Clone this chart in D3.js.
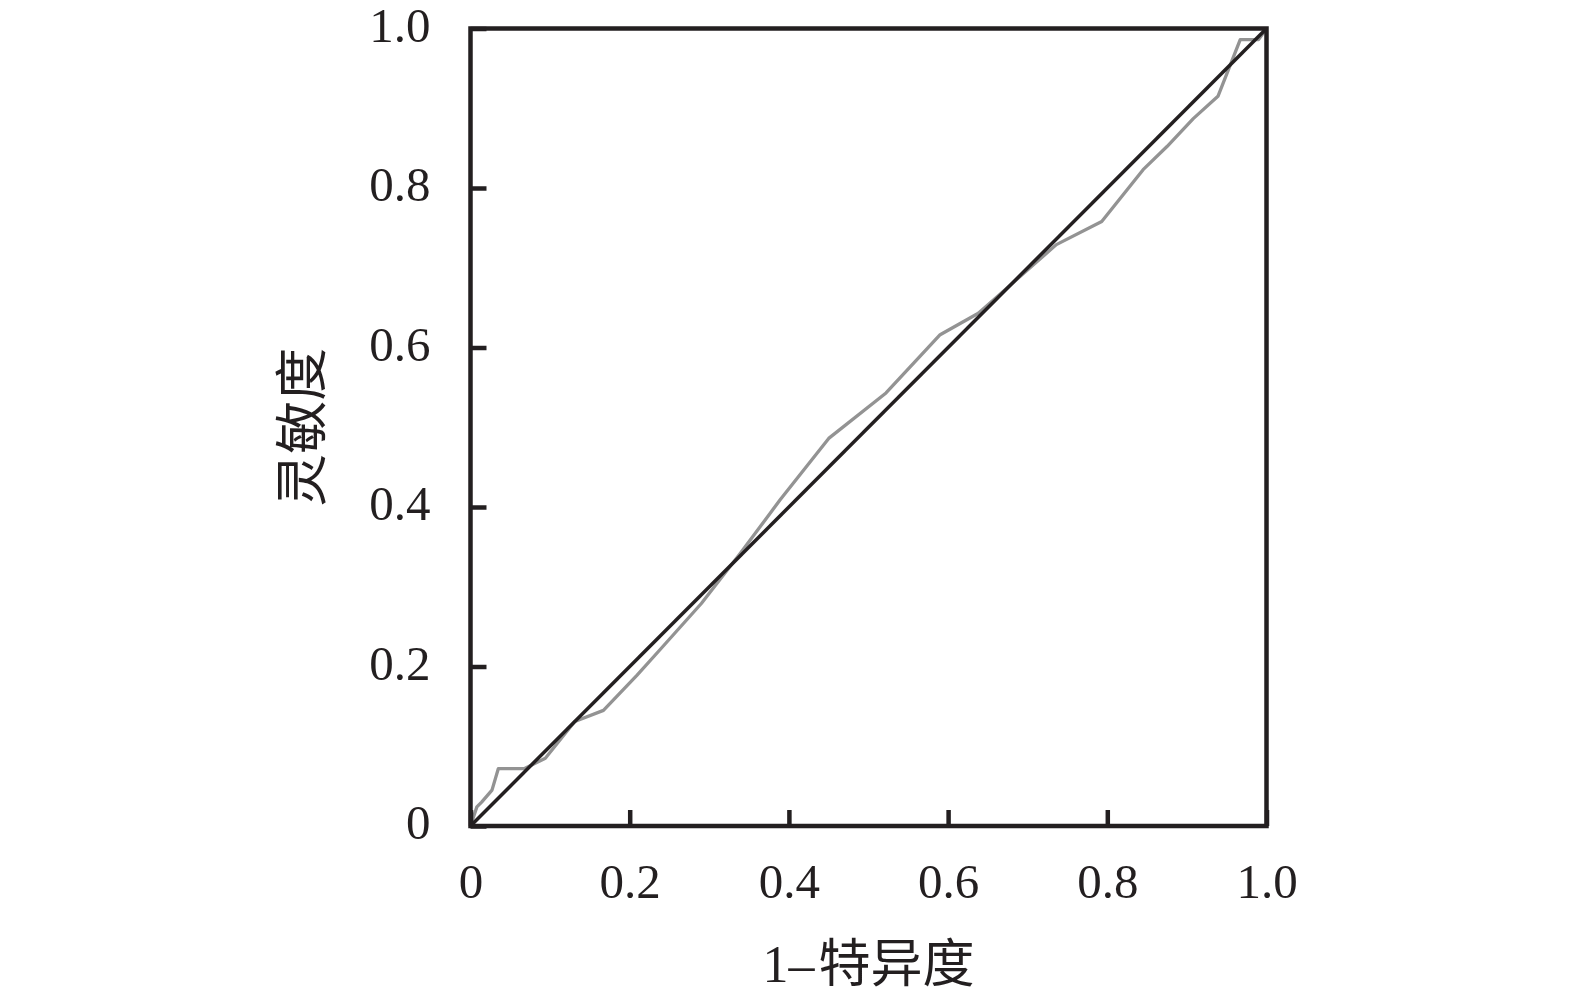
<!DOCTYPE html>
<html>
<head>
<meta charset="utf-8">
<script src="https://cdn.jsdelivr.net/npm/d3@7"></script>
<style>
  html, body { margin: 0; padding: 0; background: #fff; }
  svg { display: block; overflow: visible; }
</style>
</head>
<body>
<svg id="chart" width="1575" height="994"></svg>
<script>
// ---- data ----
const fprValues = [0, 0.008, 0.014, 0.027, 0.035, 0.068, 0.094, 0.131, 0.167, 0.209, 0.238, 0.29, 0.339, 0.389, 0.450, 0.522, 0.590, 0.638, 0.736, 0.793, 0.845, 0.875, 0.908, 0.939, 0.967, 0.990, 1.0];
const tprValues = [0, 0.024, 0.030, 0.045, 0.072, 0.072, 0.085, 0.131, 0.145, 0.189, 0.221, 0.279, 0.342, 0.409, 0.486, 0.543, 0.616, 0.643, 0.729, 0.758, 0.823, 0.852, 0.887, 0.915, 0.986, 0.986, 1.0];
const refX = [0, 1];
const refY = [0, 1];
const tickValues = [0, 0.2, 0.4, 0.6, 0.8, 1.0];
const tickLabels = ["0", "0.2", "0.4", "0.6", "0.8", "1.0"];
const xTitleNum = "1\u2013";
const xTitleText = "特异度";
const yTitle = "灵敏度";

// ---- layout ----
const plotL = 470.5, plotR = 1266.5, plotT = 28.5, plotB = 826;
const svg = d3.select("#chart");
const x = d3.scaleLinear().domain([0, 1]).range([plotL, plotR]);
const y = d3.scaleLinear().domain([0, 1]).range([plotB, plotT]);
const ink = "#231f20";
const numFont = "'Liberation Serif', 'DejaVu Serif', serif";
const cjkFont = "'Noto Sans CJK SC', 'Noto Sans CJK JP', sans-serif";

// curve (under)
const line = d3.line().x(d => x(d[0])).y(d => y(d[1]));
svg.append("path")
  .datum(fprValues.map((v, i) => [v, tprValues[i]]))
  .attr("d", line)
  .attr("fill", "none")
  .attr("stroke", "#939393")
  .attr("stroke-width", 3.3)
  .attr("stroke-linejoin", "round");

// reference diagonal
svg.append("path")
  .datum(refX.map((v, i) => [v, refY[i]]))
  .attr("d", line)
  .attr("fill", "none")
  .attr("stroke", ink)
  .attr("stroke-width", 3.5);

// axes (ticks inward)
const fmt = d => tickLabels[tickValues.indexOf(d)];
const xAxis = d3.axisBottom(x).tickValues(tickValues).tickFormat(fmt).tickSizeInner(-16).tickSizeOuter(0).tickPadding(0);
const yAxis = d3.axisLeft(y).tickValues(tickValues).tickFormat(fmt).tickSizeInner(-16).tickSizeOuter(0).tickPadding(0);

const gx = svg.append("g").attr("transform", `translate(0,${plotB})`).call(xAxis);
const gy = svg.append("g").attr("transform", `translate(${plotL},0)`).call(yAxis);
[gx, gy].forEach(g => {
  g.select(".domain").remove();
  g.selectAll(".tick line").attr("stroke", ink).attr("stroke-width", 4.5);
  g.selectAll(".tick text").attr("fill", ink).style("font-family", numFont).style("font-size", "49px");
});
gx.selectAll(".tick text").attr("y", 72).attr("dy", null).attr("text-anchor", "middle");
gy.selectAll(".tick text").attr("x", -40).attr("dy", null).attr("y", 12.5).attr("text-anchor", "end");

// frame
svg.append("rect")
  .attr("x", plotL).attr("y", plotT)
  .attr("width", plotR - plotL).attr("height", plotB - plotT)
  .attr("fill", "none").attr("stroke", ink).attr("stroke-width", 4.5);

// titles
const xt = svg.append("text")
  .attr("x", (plotL + plotR) / 2).attr("y", 982)
  .attr("text-anchor", "middle")
  .attr("fill", ink);
xt.append("tspan").style("font-family", numFont).style("font-size", "52px").text(xTitleNum);
xt.append("tspan").style("font-family", cjkFont).style("font-size", "52px").attr("dx", 4).text(xTitleText);

svg.append("text")
  .attr("transform", `translate(321,${(plotT + plotB) / 2}) rotate(-90)`)
  .attr("text-anchor", "middle")
  .attr("fill", ink)
  .style("font-family", cjkFont).style("font-size", "53px")
  .text(yTitle);
</script>
</body>
</html>
